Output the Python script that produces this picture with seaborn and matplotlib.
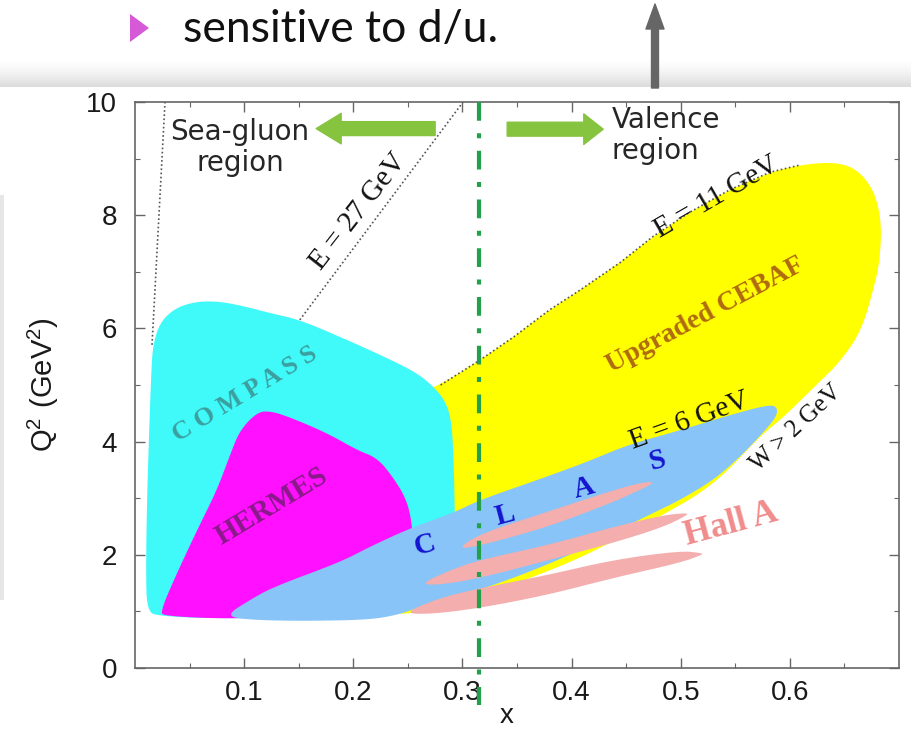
import numpy as np
import pandas as pd
import matplotlib
matplotlib.use("Agg")
import matplotlib.pyplot as plt
import seaborn as sns

# ---------------------------------------------------------------
# Kinematic coverage of DIS experiments in the (x, Q^2) plane
# outlines are given as (x, Q^2 [GeV^2]) vertex lists
# ---------------------------------------------------------------

# 11 GeV beam limit (upper edge of the upgraded CEBAF reach)
e11_x = [0.280, 0.316, 0.347, 0.380, 0.408, 0.445, 0.475, 0.509, 0.545, 0.582, 0.610]
e11_q2 = [5.00, 5.44, 5.85, 6.33, 6.68, 7.17, 7.63, 8.06, 8.45, 8.76, 8.89]

# remainder of the upgraded CEBAF outline (W > 2 GeV edge and low-Q2 edge)
cebaf_x = [0.640, 0.660, 0.674, 0.681, 0.684, 0.682, 0.678, 0.666, 0.646, 0.628,
           0.610, 0.591, 0.573, 0.530, 0.475, 0.408, 0.362, 0.316, 0.261, 0.243,
           0.151, 0.028, 0.018, 0.151]
cebaf_q2 = [8.94, 8.83, 8.53, 8.18, 7.74, 7.16, 6.80, 5.97, 5.41, 5.07,
            4.73, 4.38, 4.10, 3.22, 2.61, 1.94, 1.59, 1.25, 0.99, 0.95,
            0.93, 0.90, 1.91, 3.85]

compass_x = [0.011, 0.010, 0.011, 0.013, 0.015, 0.0165, 0.023, 0.037, 0.055, 0.075,
             0.096, 0.124, 0.151, 0.188, 0.225, 0.257, 0.273, 0.284, 0.290, 0.292,
             0.293, 0.293, 0.270, 0.225, 0.151, 0.060, 0.023]
compass_q2 = [0.99, 1.73, 2.97, 4.20, 5.27, 5.71, 6.11, 6.36, 6.47, 6.48,
              6.41, 6.27, 6.15, 5.85, 5.53, 5.23, 4.98, 4.73, 4.38, 3.67,
              2.79, 2.17, 1.47, 1.02, 0.88, 0.88, 0.92]

hermes_x = [0.023, 0.0385, 0.057, 0.075, 0.087, 0.096, 0.112, 0.124, 0.142, 0.176,
            0.2035, 0.222, 0.2365, 0.249, 0.254, 0.254, 0.225, 0.179, 0.133, 0.078, 0.0275]
hermes_q2 = [0.99, 1.68, 2.44, 3.14, 3.76, 4.20, 4.52, 4.54, 4.43, 4.15,
             3.85, 3.71, 3.37, 2.97, 2.53, 2.17, 1.64, 1.20, 0.90, 0.87, 0.92]

clas_x = [0.0825, 0.105, 0.1265, 0.188, 0.215, 0.252, 0.2915, 0.316, 0.3685, 0.414,
          0.451, 0.4995, 0.545, 0.582, 0.589, 0.587, 0.576, 0.5545, 0.530, 0.4995,
          0.475, 0.438, 0.408, 0.362, 0.316, 0.261, 0.243, 0.215, 0.151, 0.105]
clas_q2 = [0.92, 1.20, 1.43, 1.87, 2.14, 2.47, 2.74, 2.97, 3.32, 3.64,
           3.94, 4.20, 4.47, 4.66, 4.59, 4.42, 4.17, 3.73, 3.32, 2.97,
           2.74, 2.39, 2.08, 1.70, 1.38, 1.08, 0.95, 0.85, 0.83, 0.85]

# Hall A kinematic settings (three narrow bands)
halla1_x = [0.295, 0.316, 0.378, 0.438, 0.463, 0.474, 0.474, 0.454, 0.438, 0.378, 0.316]
halla1_q2 = [2.10, 2.37, 2.76, 3.14, 3.27, 3.29, 3.25, 3.07, 2.93, 2.49, 2.16]

halla2_x = [0.261, 0.289, 0.316, 0.378, 0.438, 0.484, 0.506, 0.506, 0.484, 0.438, 0.378, 0.316, 0.280]
halla2_q2 = [1.48, 1.73, 1.91, 2.17, 2.49, 2.70, 2.74, 2.70, 2.49, 2.21, 1.90, 1.59, 1.47]

halla3_x = [0.2456, 0.2796, 0.3162, 0.3776, 0.4381, 0.4995, 0.5197, 0.5197, 0.4995, 0.4381, 0.3776, 0.3162, 0.2704]
halla3_q2 = [0.97, 1.24, 1.41, 1.64, 1.91, 2.07, 2.03, 2.00, 1.86, 1.59, 1.29, 1.06, 0.95]

# beam-energy limit lines
e27_x = [0.151, 0.3006]
e27_q2 = [6.15, 10.0]
e160_x = [0.0156, 0.0275]
e160_q2 = [5.71, 10.0]

# sea / valence separation
x_split = 0.315

# CLAS letters spread along its band
clas_letters = ["C", "L", "A", "S"]
clas_lx = [0.266, 0.339, 0.4115, 0.4785]
clas_lq2 = [2.17, 2.69, 3.18, 3.67]

x_ticks = [0.1, 0.2, 0.3, 0.4, 0.5, 0.6]
x_tick_labels = ["0.1", "0.2", "0.3", "0.4", "0.5", "0.6"]
y_ticks = [0, 2, 4, 6, 8, 10]
y_tick_labels = ["0", "2", "4", "6", "8", "10"]

# ---------------------------------------------------------------
sns.set_style("ticks")
plt.rcParams["font.family"] = ["Liberation Sans", "DejaVu Sans"]

W, H = 911, 732
fig = plt.figure(figsize=(W / 100, H / 100), dpi=100)
fig.patch.set_facecolor("white")

# page layer in pixel units (slide strip above the figure)
page = fig.add_axes([0, 0, 1, 1], zorder=0)
page.set_xlim(0, W)
page.set_ylim(H, 0)
page.axis("off")
grad = np.linspace(0, 1, 64)[:, None] ** 1.5
page.imshow(1 - 0.14 * grad, cmap="gray", vmin=0, vmax=1, aspect="auto",
            extent=(0, W, 87, 58), interpolation="bilinear")
page.add_patch(plt.Rectangle((0, 195), 4, 405, color="#e6e6e6", lw=0))
page.add_patch(plt.Polygon([(130, 14), (130, 42), (149, 28)], closed=True,
                           color="#d65ad8", lw=0))
page.text(183, 29, "sensitive to d/u.", fontsize=32, family=["Lato", "DejaVu Sans"],
          color="#111111", va="center", ha="left")
page.annotate("", xy=(655, 4), xytext=(655, 88),
              arrowprops=dict(arrowstyle="simple,head_length=0.9,head_width=0.65,tail_width=0.25",
                              color="#666666", shrinkA=0, shrinkB=0, mutation_scale=20))

ax = fig.add_axes([135 / W, 1 - 668 / H, 764 / W, 566 / H], zorder=1)
ax.set_facecolor("white")


def chaikin(xs, ys, n=3):
    pts = np.column_stack([xs, ys]).astype(float)
    for _ in range(n):
        nxt = np.roll(pts, -1, axis=0)
        q = 0.75 * pts + 0.25 * nxt
        r = 0.25 * pts + 0.75 * nxt
        out = np.empty((2 * len(pts), 2))
        out[0::2] = q
        out[1::2] = r
        pts = out
    return pts


def region(xs, ys, color, z, n=3):
    p = chaikin(xs, ys, n)
    ax.fill(p[:, 0], p[:, 1], color=color, lw=0, zorder=z)


region(e11_x + cebaf_x, e11_q2 + cebaf_q2, "#ffff00", 1)
region(compass_x, compass_q2, "#40fafa", 2)
region(hermes_x, hermes_q2, "#ff10ff", 3)
region(clas_x, clas_q2, "#88c4f7", 4)
for hx, hq in [(halla1_x, halla1_q2), (halla2_x, halla2_q2), (halla3_x, halla3_q2)]:
    region(hx, hq, "#f4aeae", 5, n=2)

# beam energy limit lines
lines = pd.concat([
    pd.DataFrame({"x": e160_x, "Q2": e160_q2, "beam": "160"}),
    pd.DataFrame({"x": e27_x, "Q2": e27_q2, "beam": "27"}),
    pd.DataFrame({"x": e11_x, "Q2": e11_q2, "beam": "11"}),
])
for b, d in lines.groupby("beam"):
    sns.lineplot(data=d, x="x", y="Q2", sort=False, estimator=None, ax=ax,
                 color="#555555", lw=1.2, ls=(0, (1, 1.5)), zorder=1.5, legend=False)

# separation line
ax.plot([x_split, x_split], [10, -0.65], color="#22a04a", lw=3.0,
        dashes=(4.5, 3.0, 1.2, 3.0), zorder=7, clip_on=False)

# region arrows
green = "#86c440"
ax.annotate("", xy=(0.166, 9.53), xytext=(0.275, 9.53),
            arrowprops=dict(arrowstyle="simple,head_length=0.9,head_width=1.1,tail_width=0.5",
                            color=green, shrinkA=0, shrinkB=0, mutation_scale=20), zorder=8)
ax.annotate("", xy=(0.429, 9.52), xytext=(0.341, 9.52),
            arrowprops=dict(arrowstyle="simple,head_length=0.7,head_width=1.1,tail_width=0.5",
                            color=green, shrinkA=0, shrinkB=0, mutation_scale=20), zorder=8)

ax.text(0.0962, 9.20, "Sea-gluon\nregion", fontsize=20, family=["DejaVu Sans"],
        ha="center", va="center", multialignment="center", linespacing=1.15, zorder=9)
ax.text(0.437, 9.41, "Valence\nregion", fontsize=20, family=["DejaVu Sans"],
        ha="left", va="center", multialignment="left", linespacing=1.15, zorder=9)

serif = ["Liberation Serif", "DejaVu Serif"]
kw = dict(ha="center", va="center", rotation_mode="anchor", family=serif, zorder=9)
ax.text(0.2044, 8.07, "E = 27 GeV", fontsize=21, rotation=52, color="#111111", **kw)
ax.text(0.5330, 8.32, "E = 11 GeV", fontsize=21, rotation=30, color="#111111", **kw)
ax.text(0.5078, 4.36, "E = 6 GeV", fontsize=21, rotation=20, color="#111111", **kw)
ax.text(0.6059, 4.24, "W > 2 GeV", fontsize=18, rotation=43, color="#111111", **kw)
ax.text(0.5225, 6.24, "Upgraded CEBAF", fontsize=20, rotation=28, color="#b06a10",
        fontweight="bold", **kw)
ax.text(0.1008, 4.84, "C O M P A S S", fontsize=19, rotation=31, color="#3c9f9f",
        fontweight="bold", **kw)
ax.text(0.1256, 2.86, "HERMES", fontsize=21, rotation=31, color="#8a1a8a",
        fontweight="bold", **kw)
for s, lx, lq in zip(clas_letters, clas_lx, clas_lq2):
    ax.text(lx, lq, s, fontsize=21, rotation=15, color="#1414d0", fontweight="bold", **kw)
ax.text(0.5463, 2.54, "Hall A", fontsize=25, rotation=15, color="#f08c8c",
        fontweight="bold", **kw)

# axes styling
ax.set_xlim(0, 0.70)
ax.set_ylim(0, 10)
ax.set_xticks(x_ticks)
ax.set_xticklabels(x_tick_labels)
ax.set_xticks(np.arange(0.05, 0.70, 0.1), minor=True)
ax.set_yticks(y_ticks)
ax.set_yticklabels(y_tick_labels)
ax.set_yticks([1, 3, 5, 7, 9], minor=True)
ax.tick_params(which="both", direction="in", top=True, right=True, color="#666666",
               labelsize=20, labelcolor="#1a1a1a")
ax.tick_params(axis="x", which="both", pad=9)
ax.tick_params(axis="y", which="both", pad=13)
ax.tick_params(which="major", length=7, width=1)
ax.tick_params(which="minor", length=3.5, width=0.8)
for sp in ax.spines.values():
    sp.set_color("#666666")
    sp.set_linewidth(1.2)

ax.set_xlabel("x", fontsize=20, color="#1a1a1a", va="baseline")
ax.xaxis.set_label_coords(0.486, -0.097)
ax.set_ylabel(r"$\mathregular{Q^2\ (GeV^2)}$", fontsize=21, color="#1a1a1a")
ax.yaxis.set_label_coords(-0.097, 0.5)

fig.savefig("out.png", dpi=100, facecolor="white")
